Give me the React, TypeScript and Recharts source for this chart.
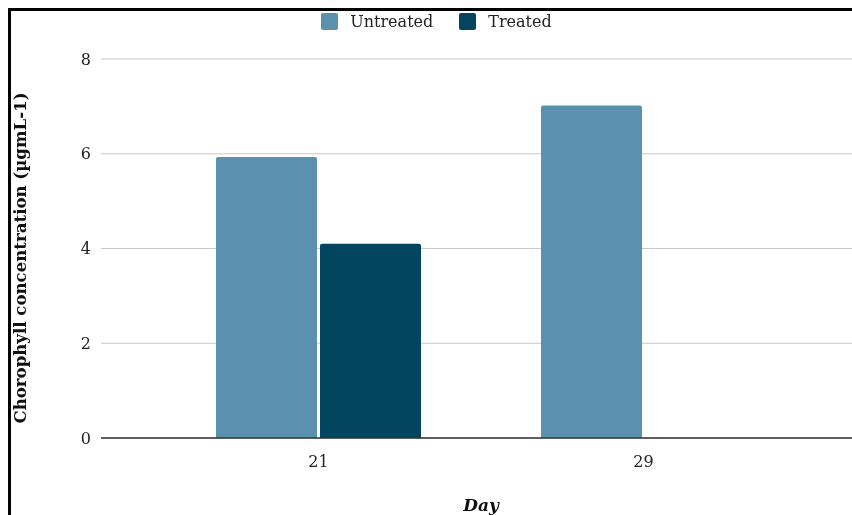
import React from "react";
import { BarChart, Bar, XAxis, YAxis, CartesianGrid, Legend } from "recharts";

const days = ["21", "29"];
const untreated = [5.93, 7.02];
const treated = [4.1, null];
const yTicks = [0, 2, 4, 6, 8];
const seriesOrder = ["Untreated", "Treated"];

const COLORS = { untreated: "#5a91ae", treated: "#03455f" };
const FONT = '"DejaVu Serif", serif';

const data = days.map((d, i) => ({ day: d, Untreated: untreated[i], Treated: treated[i] }));

function LegendContent(props: any) {
  const items = [...(props.payload || [])].sort(
    (a: any, b: any) => seriesOrder.indexOf(a.value) - seriesOrder.indexOf(b.value)
  );
  return (
    <div style={{ display: "flex", justifyContent: "center", height: 20, fontFamily: FONT, fontSize: 16, color: "#222" }}>
      {items.map((it: any, i: number) => (
        <div key={it.value} style={{ display: "flex", alignItems: "center", marginLeft: i ? 26 : 0 }}>
          <span style={{ width: 17, height: 17, background: it.color, borderRadius: 2, marginRight: 12, display: "inline-block" }} />
          <span>{it.value}</span>
        </div>
      ))}
    </div>
  );
}

function YLabel() {
  return (
    <text x={9} y={247} transform="rotate(-90 9 247)" textAnchor="middle" dominantBaseline="central"
      style={{ fontFamily: FONT, fontSize: 16.6, fontWeight: 700, fill: "#111" }}>
      Chorophyll concentration (µgmL-1)
    </text>
  );
}

function XLabel() {
  return (
    <text x={470} y={494} textAnchor="middle" dominantBaseline="central"
      style={{ fontFamily: FONT, fontSize: 17, fontWeight: 700, fontStyle: "italic", fill: "#111" }}>
      Day
    </text>
  );
}

export default function App() {
  return (
    <div style={{ position: "fixed", left: 8, top: 8, width: 860, height: 515, overflow: "hidden", borderLeft: "3px solid #000", borderTop: "3px solid #000", boxSizing: "border-box", fontFamily: FONT }}>
      <style>{"html,body{overflow:hidden}"}</style>
      <BarChart width={860} height={510} data={data} margin={{ top: 28, right: 9, bottom: 53, left: 0 }} barCategoryGap={60} barGap={3}>
        <CartesianGrid vertical={false} stroke="#c8c8c8" />
        <Legend verticalAlign="top" content={<LegendContent />} wrapperStyle={{ top: 0 }} />
        <XAxis dataKey="day" padding={{ left: 55, right: 56 }} tickLine={false} tickSize={0} tickMargin={18}
          stroke="#333" strokeWidth={1.5} height={30}
          tick={{ fill: "#222", fontSize: 16, fontFamily: FONT }} label={<XLabel />} />
        <YAxis width={90} domain={[0, 8]} ticks={yTicks} axisLine={false} tickLine={false} tickSize={0} tickMargin={10}
          tick={{ fill: "#222", fontSize: 16, fontFamily: FONT }} label={<YLabel />} />
        <Bar dataKey="Untreated" fill={COLORS.untreated} radius={[2, 2, 0, 0]} isAnimationActive={false} />
        <Bar dataKey="Treated" fill={COLORS.treated} radius={[2, 2, 0, 0]} isAnimationActive={false} />
      </BarChart>
    </div>
  );
}
